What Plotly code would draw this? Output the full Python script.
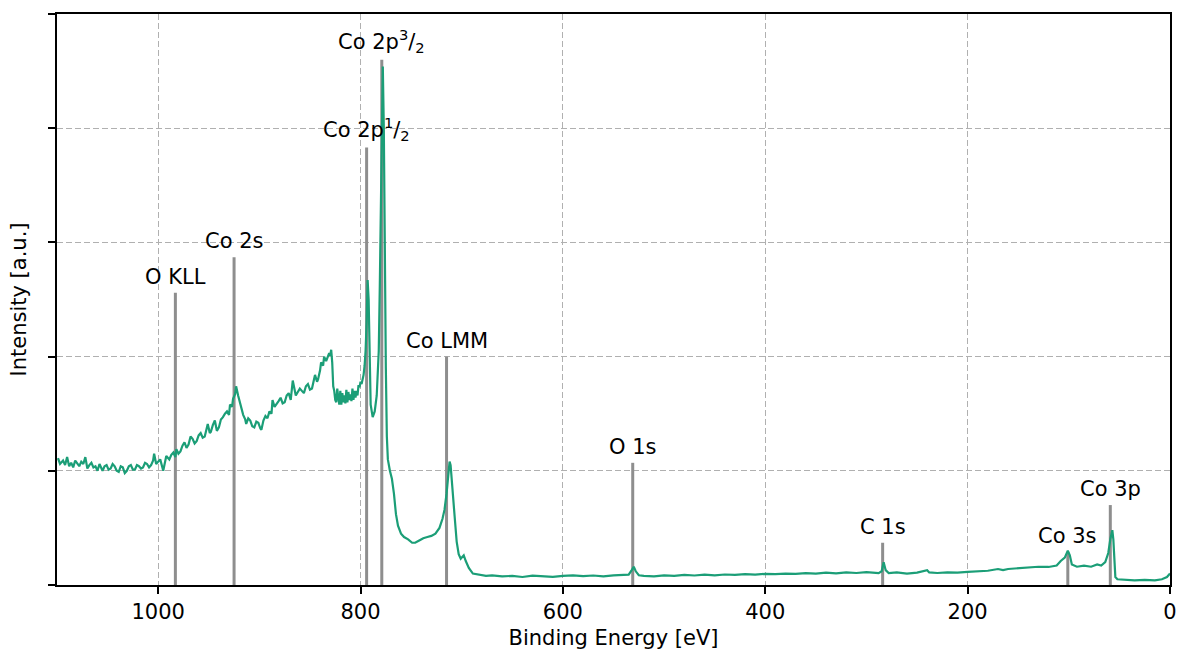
import plotly.graph_objects as go

# XPS survey spectrum
energy = [1099, 1097, 1094, 1092, 1090, 1088, 1086, 1084, 1082, 1080, 1078, 1076, 1074, 1072, 1070,
          1068, 1066, 1064, 1062, 1060, 1058, 1056, 1055, 1053, 1051, 1049, 1047, 1045, 1043, 1041,
          1039, 1037, 1035, 1033, 1031, 1029, 1027, 1025, 1023, 1021, 1019, 1017, 1015, 1013, 1011,
          1009, 1007, 1005, 1004, 1002, 1001, 998, 995, 992,
          989, 987, 985, 983, 982, 980, 978, 976, 974, 972, 970, 968, 966, 964, 962, 960, 958,
          956, 954, 952, 951, 949, 948, 946, 944, 942, 940, 938, 936,
          934, 932, 930, 929, 927, 926, 924, 923, 921, 920, 918, 916, 914, 913, 911, 909, 907, 905,
          903, 901, 899, 898, 896, 894, 892, 890, 888, 887, 885, 883,
          881, 879, 877, 875, 873, 871, 869, 867, 865, 864, 862, 860, 858, 856, 854, 852, 850, 848,
          846, 845, 843, 842, 840, 839, 837, 836, 834, 833, 831, 830,
          829, 828, 827, 826, 825, 824, 823, 822, 821, 820, 819, 818, 817, 816, 815, 814, 813, 812,
          811, 810, 809, 808, 807, 806, 805, 804, 803, 802, 801, 800, 799, 798, 797, 796, 795, 794, 793,
          792, 791, 790, 788, 786, 784, 782, 781, 780, 779, 778, 777, 776, 775, 774,
          773, 771, 769, 767, 765, 763, 760, 757, 753, 749, 746, 742, 738, 734, 730,
          726, 722, 719, 717, 715, 713, 712, 711, 709, 707, 705, 703, 701, 698, 696,
          693, 689, 684, 676, 670, 660, 650, 640, 630, 620, 610, 600, 590, 580, 570,
          560, 550, 540, 535, 532, 530, 528, 525, 520, 510, 500, 490, 480, 470, 460,
          450, 440, 430, 420, 410, 400, 390, 380, 370, 360, 350, 340, 330, 320, 310,
          300, 292, 288, 285, 283, 281, 278, 270, 260, 250, 240, 238, 230, 220, 210,
          200, 190, 180, 170, 165, 160, 150, 140, 130, 120, 112, 108, 104, 101, 99,
          97, 92, 85, 78, 72, 68, 64, 61, 59, 57, 56, 55, 54, 52, 45,
          35, 25, 15, 8, 3, 0]
intensity = [1.11, 1.06, 1.09, 1.05, 1.12, 1.04, 1.07, 1.03, 1.09, 1.06, 1.04, 1.08, 1.06, 1.12, 1.02,
             1.05, 1.07, 1.03, 1.04, 1.00, 1.06, 1.02, 1.00, 1.04, 1.05, 1.01, 1.02, 1.06, 1.04, 1.00,
             0.99, 1.04, 1.03, 0.98, 1.00, 1.04, 1.05, 1.01, 1.01, 1.05, 1.04, 1.02, 1.03, 1.07, 1.06,
             1.03, 1.05, 1.09, 1.15, 1.06, 1.07, 1.10, 1.00, 1.13,
             1.10, 1.14, 1.16, 1.12, 1.19, 1.15, 1.17, 1.22, 1.25, 1.20, 1.23, 1.30, 1.28, 1.24, 1.26, 1.31, 1.33,
             1.29, 1.30, 1.37, 1.41, 1.33, 1.34, 1.40, 1.44, 1.35, 1.38, 1.45, 1.47,
             1.50, 1.52, 1.49, 1.58, 1.56, 1.63, 1.67, 1.74, 1.66, 1.62, 1.55, 1.49, 1.45, 1.41, 1.46, 1.44, 1.39, 1.38,
             1.43, 1.42, 1.37, 1.36, 1.44, 1.48, 1.46, 1.52, 1.50, 1.62, 1.56, 1.58,
             1.61, 1.64, 1.59, 1.60, 1.66, 1.68, 1.62, 1.79, 1.70, 1.66, 1.69, 1.72, 1.70, 1.68, 1.74, 1.76, 1.71, 1.72,
             1.80, 1.84, 1.78, 1.80, 1.88, 1.95, 1.92, 2.00, 1.96, 1.98, 2.03, 2.01,
             2.06, 1.95, 1.74, 1.70, 1.62, 1.60, 1.72, 1.64, 1.58, 1.70, 1.58, 1.68, 1.60, 1.66, 1.59, 1.71, 1.60, 1.69,
             1.62, 1.67, 1.61, 1.72, 1.62, 1.70, 1.64, 1.70, 1.66, 1.75, 1.73, 1.78, 1.76, 1.80, 1.84, 1.92, 2.05, 2.30, 2.67,
             2.50, 1.90, 1.58, 1.47, 1.52, 1.66, 2.05, 2.60, 3.40, 4.20, 4.54, 4.00, 2.80, 1.90, 1.30,
             1.10, 1.00, 0.93, 0.80, 0.62, 0.52, 0.45, 0.42, 0.40, 0.37, 0.37, 0.39, 0.41, 0.42, 0.43,
             0.45, 0.50, 0.58, 0.66, 0.80, 0.98, 1.08, 1.05, 0.86, 0.60, 0.38, 0.27, 0.23, 0.26, 0.21,
             0.15, 0.10, 0.09, 0.08, 0.085, 0.075, 0.08, 0.07, 0.082, 0.078, 0.072, 0.08, 0.085, 0.078, 0.083,
             0.075, 0.085, 0.088, 0.09, 0.13, 0.16, 0.12, 0.085, 0.08, 0.075, 0.085, 0.08, 0.088, 0.083, 0.09,
             0.085, 0.092, 0.088, 0.095, 0.09, 0.098, 0.095, 0.10, 0.097, 0.104, 0.10, 0.108, 0.102, 0.11, 0.105,
             0.112, 0.108, 0.104, 0.12, 0.20, 0.13, 0.105, 0.11, 0.10, 0.108, 0.13, 0.11, 0.105, 0.11, 0.108,
             0.115, 0.118, 0.125, 0.14, 0.13, 0.14, 0.145, 0.15, 0.16, 0.158, 0.17, 0.21, 0.24, 0.30, 0.26,
             0.18, 0.16, 0.17, 0.16, 0.18, 0.17, 0.20, 0.28, 0.40, 0.48, 0.40, 0.15, 0.07, 0.05, 0.045,
             0.04, 0.045, 0.04, 0.05, 0.07, 0.10]

# peak markers
peak_names = ["O KLL", "Co 2s", "Co 2p<sup>1</sup>/<sub>2</sub>", "Co 2p<sup>3</sup>/<sub>2</sub>",
              "Co LMM", "O 1s", "C 1s", "Co 3s", "Co 3p"]
peak_pos = [983, 925, 794, 779, 715, 531, 284, 101, 59]
peak_height = [2.56, 2.87, 3.83, 4.60, 2.00, 1.07, 0.37, 0.29, 0.70]

xticks = [1000, 800, 600, 400, 200, 0]

line_x, line_y = [], []
for p, h in zip(peak_pos, peak_height):
    line_x += [p, p, None]
    line_y += [0, h, None]

fig = go.Figure()
fig.add_trace(go.Scatter(x=line_x, y=line_y, mode="lines",
                         line=dict(color="#8e8e8e", width=3), hoverinfo="skip"))
fig.add_trace(go.Scatter(x=energy, y=intensity, mode="lines",
                         line=dict(color="#1b9e77", width=2.2)))

for name, p, h in zip(peak_names, peak_pos, peak_height):
    fig.add_annotation(x=p, y=h, text=name, showarrow=False, yanchor="bottom",
                       yshift=2, font=dict(size=21, color="black"))

fig.update_layout(
    width=1179, height=650,
    margin=dict(l=57, r=9, t=14, b=65),
    plot_bgcolor="white", paper_bgcolor="white",
    showlegend=False,
    font=dict(family="DejaVu Sans", size=21, color="black"),
)
fig.update_xaxes(range=[1100, 0], tickvals=xticks, ticks="outside", ticklen=7,
                 tickwidth=1.5, tickcolor="black", tickfont=dict(size=21),
                 showline=True, linecolor="black", linewidth=1.5, mirror=True,
                 showgrid=True, gridcolor="#b0b0b0", griddash="6px,3px", gridwidth=1,
                 zeroline=False, automargin=False,
                 title=dict(text="Binding Energy [eV]", font=dict(size=21), standoff=8))
fig.update_yaxes(range=[0, 5], dtick=1, showticklabels=False, ticks="outside", ticklen=7,
                 tickwidth=1.5, tickcolor="black",
                 showline=True, linecolor="black", linewidth=1.5, mirror=True,
                 showgrid=True, gridcolor="#b0b0b0", griddash="6px,3px", gridwidth=1,
                 zeroline=False, automargin=False,
                 title=dict(text="Intensity [a.u.]", font=dict(size=21), standoff=16))

# page body has a default 8px margin; drop it so the figure fills the window
fig.write_html("out.html", config={"displayModeBar": False},
               post_script="document.body.style.margin='0px';")
